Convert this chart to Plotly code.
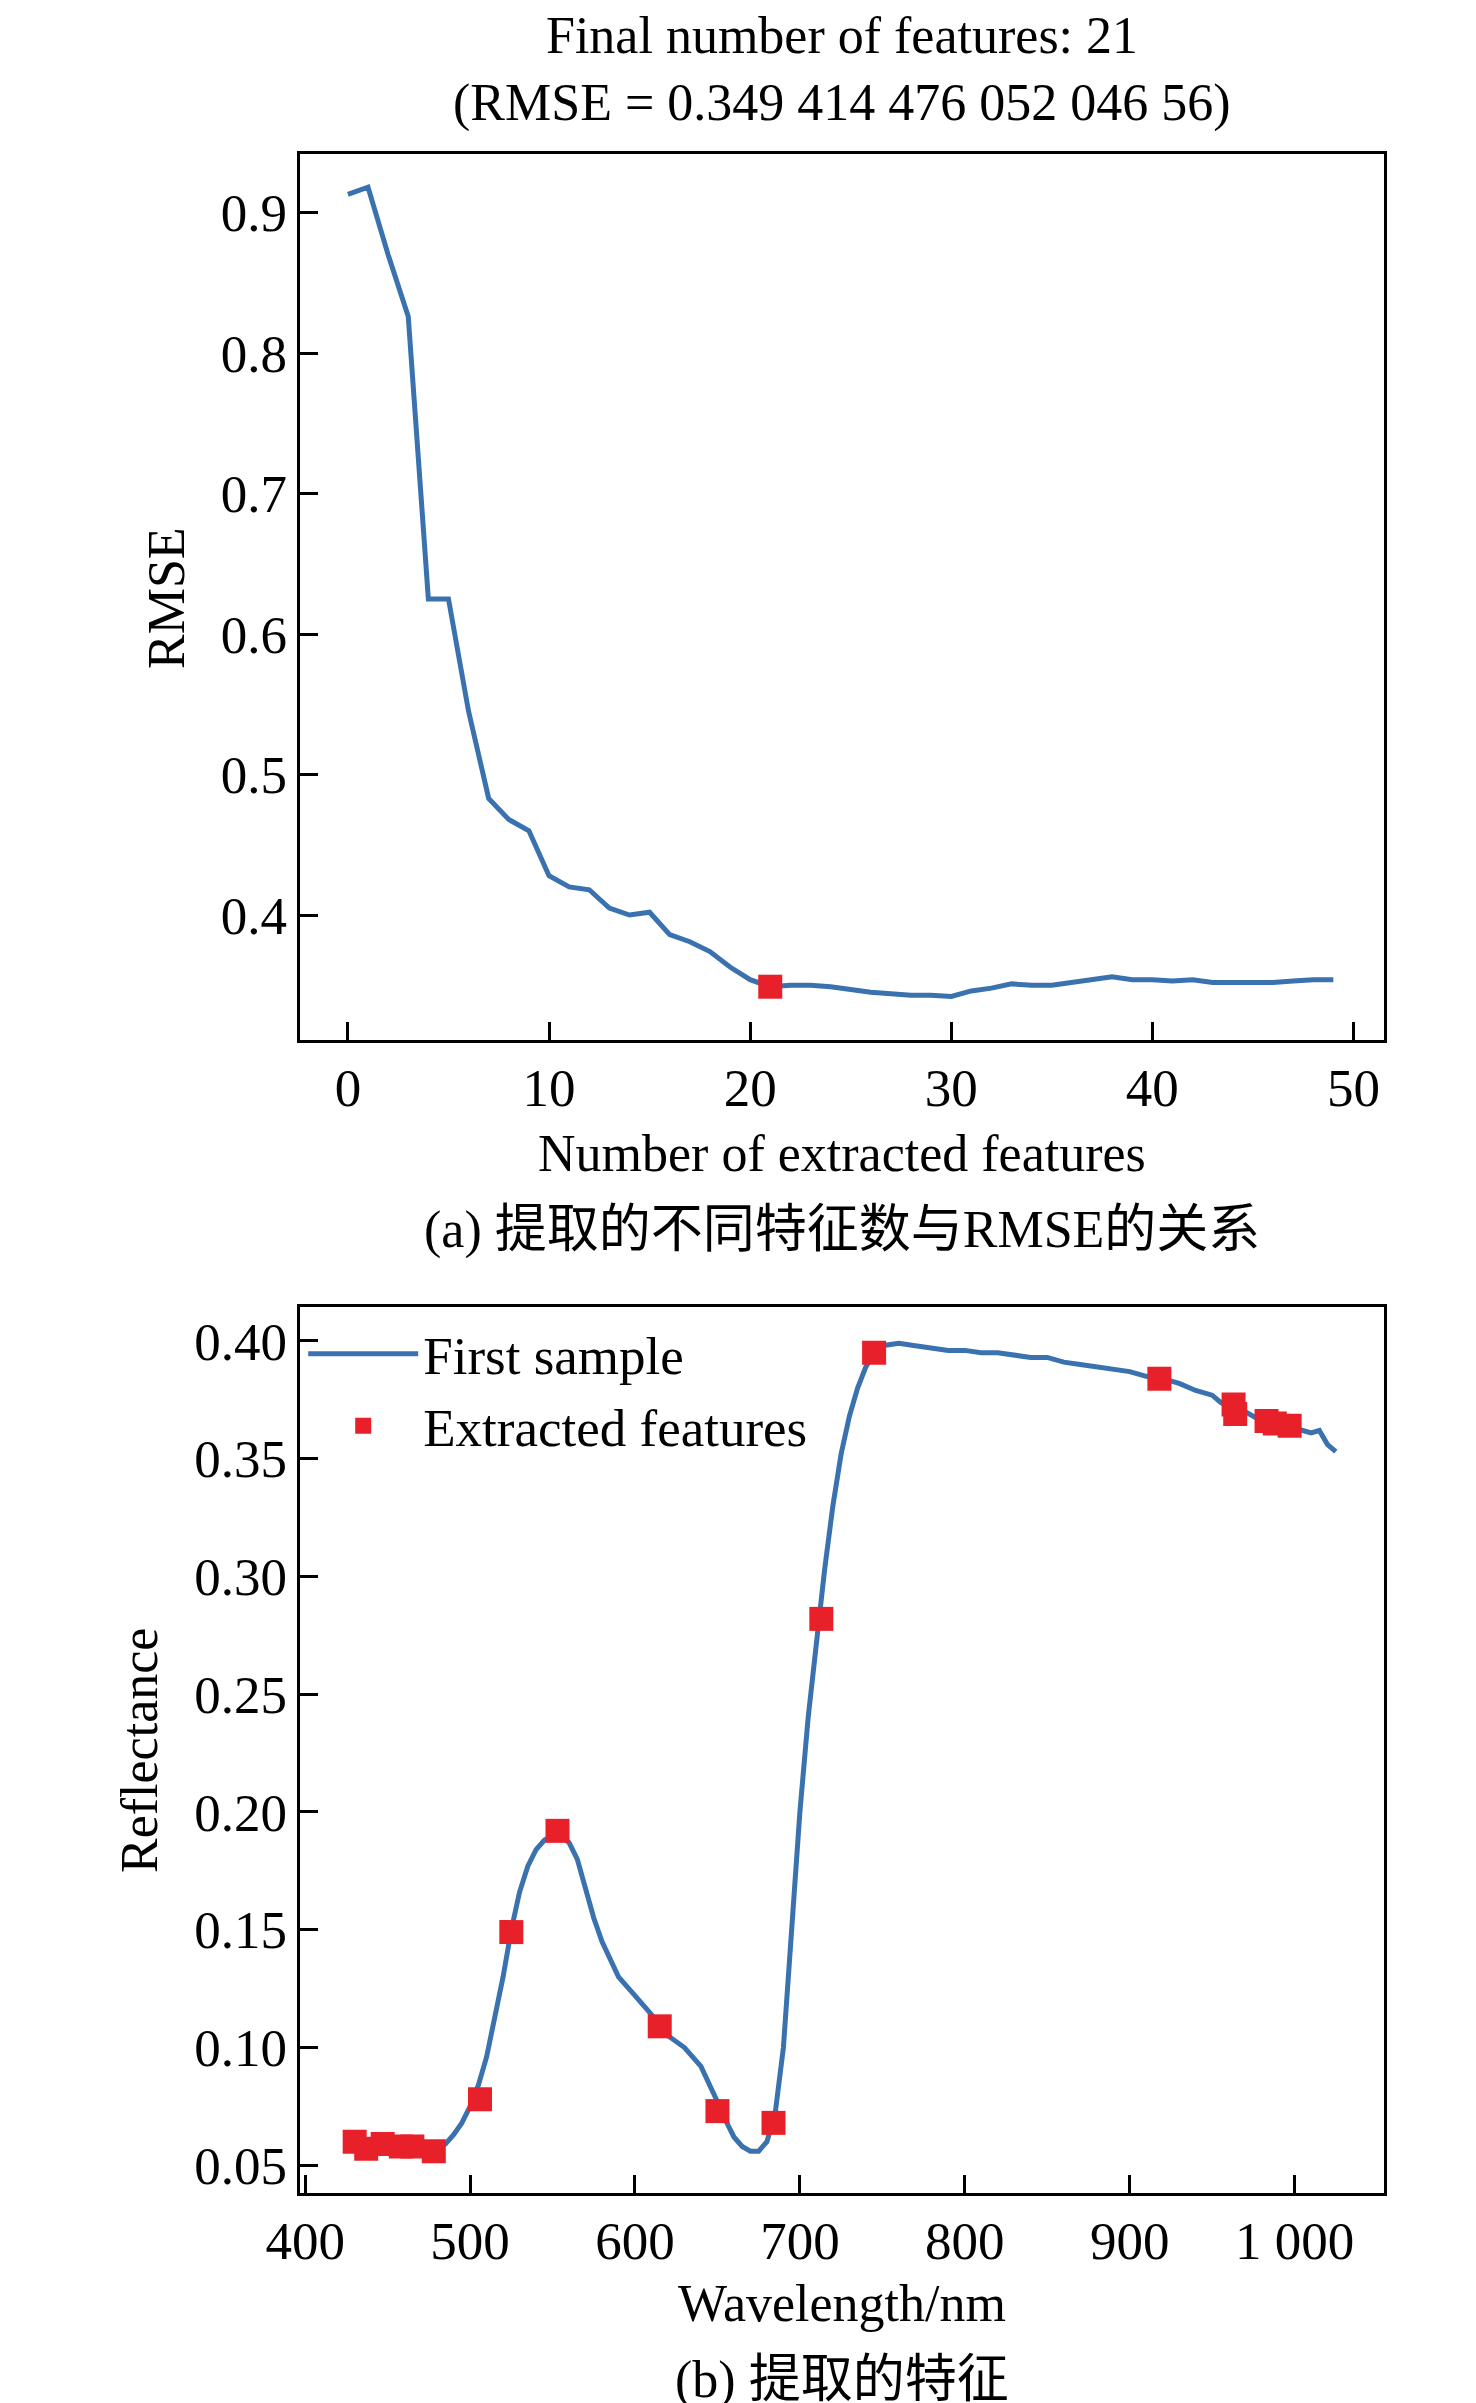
import plotly.graph_objects as go

# panel (a): RMSE vs number of extracted features
n_features = list(range(50))
rmse = [0.913, 0.918, 0.870, 0.826, 0.625, 0.625, 0.545, 0.483, 0.468, 0.460,
        0.428, 0.420, 0.418, 0.405, 0.400, 0.402, 0.386, 0.381, 0.374, 0.363,
        0.354, 0.349, 0.350, 0.350, 0.349, 0.347, 0.345, 0.344, 0.343, 0.343,
        0.342, 0.346, 0.348, 0.351, 0.350, 0.350, 0.352, 0.354, 0.356, 0.354,
        0.354, 0.353, 0.354, 0.352, 0.352, 0.352, 0.352, 0.353, 0.354, 0.354]
best_n = [21]
best_rmse = [0.349]

# panel (b): first sample spectrum and extracted features
wavelength = [430, 435, 440, 445, 450, 455, 460, 465, 470, 475, 480, 485, 490, 495, 500,
              505, 510, 515, 520, 525, 530, 535, 540, 545, 550, 555, 560, 565, 570,
              575, 580, 590, 600, 610, 620, 630, 640, 645, 650, 655, 660, 665, 670,
              675, 680, 685, 690, 695, 700, 705, 710, 715, 720, 725, 730, 735, 740,
              745, 750, 760, 770, 780, 790, 800, 810, 820, 830, 840, 850, 860, 870,
              880, 890, 900, 910, 920, 930, 940, 950, 955, 960, 965, 970, 975, 980,
              985, 990, 995, 1000, 1005, 1010, 1015, 1020, 1025]
reflectance = [0.059, 0.058, 0.059, 0.057, 0.058, 0.058, 0.057, 0.058, 0.056, 0.057,
               0.057, 0.059, 0.063, 0.068, 0.075, 0.084, 0.096, 0.112, 0.130, 0.150,
               0.166, 0.177, 0.184, 0.188, 0.190, 0.190, 0.187, 0.180, 0.168, 0.155,
               0.145, 0.130, 0.122, 0.114, 0.105, 0.100, 0.092, 0.085, 0.077, 0.069,
               0.062, 0.058, 0.056, 0.056, 0.060, 0.072, 0.100, 0.150, 0.200, 0.240,
               0.272, 0.303, 0.330, 0.352, 0.368, 0.380, 0.389, 0.395, 0.398, 0.399,
               0.398, 0.397, 0.396, 0.396, 0.395, 0.395, 0.394, 0.393, 0.393, 0.391,
               0.390, 0.389, 0.388, 0.387, 0.385, 0.384, 0.382, 0.379, 0.377, 0.374,
               0.372, 0.375, 0.370, 0.368, 0.366, 0.363, 0.364, 0.366, 0.363, 0.362,
               0.361, 0.362, 0.356, 0.353]
feat_wl = [430, 437, 447, 458, 465, 478, 506, 525, 553, 615, 650, 684, 713, 745,
           918, 963, 964, 983, 988, 997]
feat_refl = [0.060, 0.057, 0.059, 0.058, 0.058, 0.056, 0.078, 0.149, 0.192, 0.109,
             0.073, 0.068, 0.282, 0.395, 0.384, 0.373, 0.369, 0.366, 0.365, 0.364]

FONT = "Liberation Serif, Times New Roman, Noto Sans CJK SC, serif"
BLUE = "#3a72b0"
RED = "#e8202a"

fig = go.Figure()
fig.add_trace(go.Scatter(x=n_features, y=rmse, mode="lines", line=dict(color=BLUE, width=5),
                         showlegend=False, xaxis="x", yaxis="y"))
fig.add_trace(go.Scatter(x=best_n, y=best_rmse, mode="markers",
                         marker=dict(symbol="square", size=24, color=RED),
                         showlegend=False, xaxis="x", yaxis="y"))
fig.add_trace(go.Scatter(x=wavelength, y=reflectance, mode="lines", name="First sample",
                         line=dict(color=BLUE, width=5), xaxis="x2", yaxis="y2"))
fig.add_trace(go.Scatter(x=feat_wl, y=feat_refl, mode="markers", name="Extracted features",
                         marker=dict(symbol="square", size=24, color=RED),
                         xaxis="x2", yaxis="y2"))

axis_common = dict(showline=True, mirror=True, linecolor="black", linewidth=2.5,
                   ticks="inside", ticklen=18, tickwidth=2.5, tickcolor="black",
                   showgrid=False, zeroline=False, automargin=False,
                   tickfont=dict(size=53, color="black"))

fig.update_layout(
    width=1476, height=2403,
    margin=dict(l=0, r=0, t=0, b=0),
    plot_bgcolor="white", paper_bgcolor="white",
    font=dict(family=FONT, color="black"),
    xaxis=dict(domain=[0.198, 0.932], range=[-2.37, 51.5], tickvals=[0, 10, 20, 30, 40, 50],
               anchor="y", **axis_common),
    yaxis=dict(domain=[0.5705, 0.9392], range=[0.311, 0.9416],
               tickvals=[0.4, 0.5, 0.6, 0.7, 0.8, 0.9], tickformat=".1f",
               anchor="x", **axis_common),
    xaxis2=dict(domain=[0.198, 0.932], range=[397, 1054],
                tickvals=[400, 500, 600, 700, 800, 900, 1000],
                ticktext=["400", "500", "600", "700", "800", "900", "1 000"],
                anchor="y2", **axis_common),
    yaxis2=dict(domain=[0.0907, 0.4594], range=[0.0382, 0.4144],
                tickvals=[0.05, 0.10, 0.15, 0.20, 0.25, 0.30, 0.35, 0.40], tickformat=".2f",
                anchor="x2", **axis_common),
    legend=dict(x=0.2, y=0.457, xanchor="left", yanchor="top", bgcolor="rgba(0,0,0,0)",
                font=dict(size=53), itemwidth=110, tracegroupgap=10),
)

texts = [
    ("Final number of features: 21", 0.565, 28, 0, 52),
    ("(RMSE = 0.349 414 476 052 046 56)", 0.565, 95, 0, 52),
    ("Number of extracted features", 0.565, 1145, 0, 52),
    ("(a) 提取的不同特征数与RMSE的关系", 0.565, 1222, 0, 52),
    ("Wavelength/nm", 0.565, 2295, 0, 52),
    ("(b) 提取的特征", 0.565, 2372, 0, 52),
    ("RMSE", 158 / 1476, 590, -90, 52),
    ("Reflectance", 131 / 1476, 1743, -90, 52),
]
for text, x, ypix, angle, size in texts:
    fig.add_annotation(text=text, x=x, y=1 - ypix / 2403, xref="paper", yref="paper",
                       showarrow=False, textangle=angle, font=dict(size=size),
                       xanchor="center", yanchor="middle")

fig.write_html("out.html")
